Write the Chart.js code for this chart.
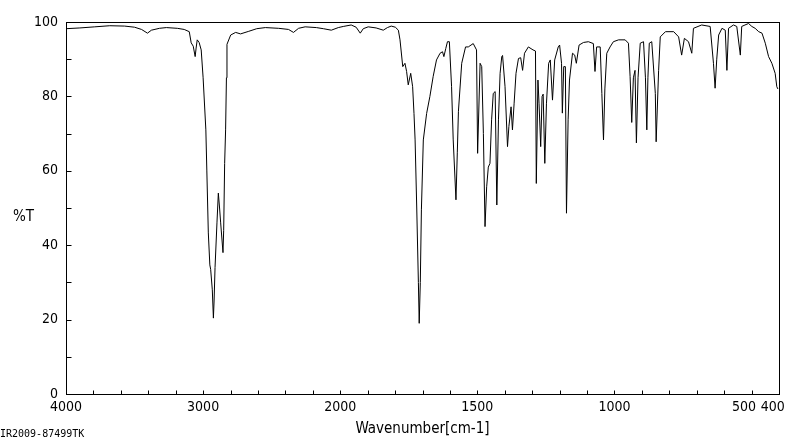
<!DOCTYPE html>
<html>
<head>
<meta charset="utf-8">
<script src="https://cdn.jsdelivr.net/npm/chart.js@4.4.1/dist/chart.umd.min.js"></script>
<style>
  html, body { margin: 0; padding: 0; background: #fff; }
  #wrap { width: 800px; height: 441px; position: relative; }
</style>
</head>
<body>
<div id="wrap"><canvas id="chart"></canvas></div>
<script>
// IR spectrum
const wavenumbers = [
  4000, 3899, 3790, 3681, 3572, 3500, 3449, 3406, 3377, 3319, 3268, 3188, 3138, 3101,
  3087, 3072, 3058, 3051, 3043, 3029, 3014, 3000, 2980, 2973, 2962, 2951, 2945, 2933,
  2925, 2920, 2913, 2899, 2889, 2880, 2872, 2855, 2850, 2843, 2836, 2830, 2826, 2799,
  2763, 2727, 2667, 2609, 2546, 2449, 2377, 2341, 2304, 2256, 2174, 2123, 2065, 2014,
  1989, 1960, 1942, 1927, 1916, 1898, 1869, 1843, 1828, 1814, 1799, 1788, 1782, 1772,
  1764, 1758, 1752, 1743, 1736, 1731, 1727, 1721, 1715, 1712, 1708, 1704, 1697, 1685,
  1673, 1661, 1649, 1636, 1627, 1622, 1615, 1609, 1602, 1594, 1588, 1578, 1573, 1569,
  1557, 1543, 1533, 1515, 1503, 1499, 1490, 1484, 1478, 1472, 1466, 1460, 1454, 1448,
  1442, 1435, 1429, 1423, 1417, 1411, 1408, 1399, 1390, 1385, 1377, 1372, 1366, 1359,
  1350, 1342, 1335, 1328, 1314, 1297, 1288, 1285, 1279, 1275, 1269, 1264, 1260, 1254,
  1248, 1240, 1234, 1226, 1218, 1205, 1200, 1193, 1190, 1185, 1179, 1175, 1169, 1164,
  1153, 1145, 1139, 1129, 1113, 1095, 1077, 1071, 1065, 1052, 1046, 1040, 1035, 1028,
  1016, 1004, 985, 961, 949, 943, 937, 931, 925, 920, 914, 906, 894, 887,
  882, 878, 873, 864, 851, 848, 839, 833, 814, 784, 766, 755, 745, 730,
  718, 712, 682, 651, 639, 633, 627, 620, 608, 596, 590, 584, 566, 554,
  541, 536, 524, 511, 499, 487, 474, 462, 450, 438, 426, 414, 408, 404
];
const transmittance = [
  98.2, 98.4, 98.7, 99.0, 98.9, 98.6, 98.0, 97.0, 97.8, 98.3, 98.5, 98.3, 98.0, 97.4,
  94.4, 93.5, 90.7, 93.0, 95.2, 94.5, 92.5, 85.0, 71.0, 60.2, 43.3, 34.7, 33.5, 28.0,
  20.4, 25.0, 34.0, 46.0, 54.0, 50.0, 46.0, 38.0, 44.0, 62.0, 71.0, 85.0, 94.0, 96.5,
  97.2, 96.8, 97.5, 98.2, 98.5, 98.3, 98.0, 97.2, 98.3, 98.7, 98.5, 98.2, 97.8, 98.5,
  98.8, 99.2, 98.6, 97.0, 98.2, 98.7, 98.4, 97.8, 98.5, 98.9, 98.6, 97.8, 95.2, 88.0,
  88.9, 86.7, 83.1, 86.2, 82.6, 75.4, 68.3, 50.0, 30.0, 19.0, 30.0, 49.5, 68.3, 75.4,
  80.0, 85.4, 89.8, 91.6, 92.0, 90.7, 92.9, 94.7, 94.7, 82.6, 68.3, 52.2, 65.0, 76.0,
  88.9, 93.3, 93.3, 94.2, 92.5, 64.7, 88.9, 88.0, 70.0, 45.0, 55.7, 61.0, 62.0, 73.7,
  80.8, 81.3, 50.8, 73.7, 86.2, 90.7, 91.0, 82.6, 66.5, 71.9, 77.2, 71.0, 78.0, 86.2,
  90.2, 90.4, 87.0, 91.6, 93.3, 92.5, 92.2, 56.6, 84.4, 78.0, 66.5, 80.0, 80.6, 62.0,
  78.0, 88.9, 89.8, 79.0, 89.8, 93.3, 93.8, 88.9, 75.5, 88.0, 88.0, 48.6, 73.7, 84.4,
  91.6, 91.1, 88.9, 93.8, 94.5, 94.7, 94.2, 86.7, 93.3, 93.3, 80.8, 68.3, 82.0, 91.6,
  93.3, 94.7, 95.2, 95.2, 94.3, 85.4, 73.0, 85.0, 87.0, 67.5, 85.0, 94.3, 94.7, 85.0,
  71.0, 85.0, 94.3, 94.7, 80.8, 67.8, 87.0, 96.0, 97.4, 97.4, 96.0, 91.1, 95.6, 94.7,
  91.6, 98.3, 99.2, 98.8, 88.9, 82.2, 90.0, 96.5, 98.3, 97.8, 87.0, 98.3, 99.2, 98.8,
  91.1, 98.8, 99.2, 99.6, 98.8, 98.3, 97.4, 97.0, 94.3, 90.7, 88.9, 86.2, 82.6, 82.0
];
const labeledTicks = [4000, 3000, 2000, 1500, 1000, 500, 400];
const yLabeled = [0, 20, 40, 60, 80, 100];

// the axis is compressed by half above 2000 cm-1
function toAxis(w) { return w <= 2000 ? w : 2000 + (w - 2000) / 2; }
function fromAxis(u) { return u <= 2000 ? u : 2000 + (u - 2000) * 2; }

const family = "'Liberation Sans Narrow', 'DejaVu Sans Condensed', sans-serif";
const tickFont = { family, size: 14 };

const framePlugin = {
  id: 'frame',
  afterDraw(chart) {
    const { ctx, chartArea: a, scales: { x, y } } = chart;
    ctx.save();
    ctx.strokeStyle = '#000';
    ctx.lineWidth = 1;
    const l = Math.round(a.left) + 0.5, r = Math.round(a.right) + 0.5;
    const t = Math.round(a.top) + 0.5, b = Math.round(a.bottom) + 0.5;
    ctx.strokeRect(l, t, r - l, b - t);
    ctx.beginPath();
    x.ticks.forEach(tk => {
      const px = Math.round(x.getPixelForValue(tk.value)) + 0.5;
      ctx.moveTo(px, b); ctx.lineTo(px, b - 4);
    });
    y.ticks.forEach(tk => {
      const py = Math.round(y.getPixelForValue(tk.value)) + 0.5;
      ctx.moveTo(l, py); ctx.lineTo(l + 5, py);
    });
    ctx.stroke();
    ctx.fillStyle = '#000';
    ctx.font = `15px ${family}`;
    ctx.textBaseline = 'middle';
    ctx.fillText('%T', 13, 217);
    ctx.font = "10px 'DejaVu Sans Mono', monospace";
    ctx.textBaseline = 'alphabetic';
    ctx.fillText('IR2009-87499TK', 0, 437);
    ctx.restore();
  }
};

new Chart(document.getElementById('chart'), {
  type: 'scatter',
  data: {
    datasets: [{
      data: wavenumbers.map((w, i) => ({ x: toAxis(w), y: transmittance[i] })),
      showLine: true,
      borderColor: '#000',
      borderWidth: 1,
      pointRadius: 0,
      tension: 0
    }]
  },
  options: {
    responsive: true,
    maintainAspectRatio: false,
    animation: false,
    layout: { padding: { top: 22, right: 21, left: 0, bottom: 0 } },
    plugins: { legend: { display: false }, tooltip: { enabled: false } },
    scales: {
      x: {
        type: 'linear',
        reverse: true,
        min: toAxis(400),
        max: toAxis(4000),
        grid: { display: false, drawTicks: false },
        border: { display: false },
        afterBuildTicks(scale) {
          const ticks = [];
          for (let u = 400; u <= 3000; u += 100) ticks.push({ value: u });
          scale.ticks = ticks;
        },
        afterFit(scale) { scale.height = 47; },
        ticks: {
          autoSkip: false,
          maxRotation: 0,
          padding: 5,
          color: '#000',
          font: tickFont,
          callback(v) {
            const w = Math.round(fromAxis(v));
            // the two last labels sit left of their ticks
            if (w === 400) return '400\u2003';
            if (w === 500) return '500\u2003\u2009';
            return labeledTicks.includes(w) ? String(w) : '';
          }
        },
        title: {
          display: true,
          text: 'Wavenumber[cm-1]',
          color: '#000',
          font: { family, size: 15 },
          padding: { top: 0, bottom: 3 }
        }
      },
      y: {
        min: 0,
        max: 100,
        grid: { display: false, drawTicks: false },
        border: { display: false },
        afterFit(scale) { scale.width = 66; },
        ticks: {
          stepSize: 10,
          autoSkip: false,
          padding: 8,
          color: '#000',
          font: tickFont,
          callback(v) { return yLabeled.includes(v) ? String(v) : ''; }
        }
      }
    }
  },
  plugins: [framePlugin]
});
</script>
</body>
</html>
